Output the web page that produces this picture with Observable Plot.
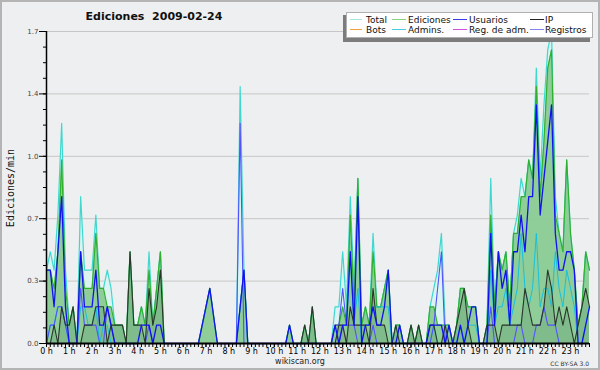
<!DOCTYPE html>
<html>
<head>
<meta charset="utf-8">
<script src="https://cdn.jsdelivr.net/npm/d3@7"></script>
<script src="https://cdn.jsdelivr.net/npm/@observablehq/plot@0.6"></script>
<style>
  html, body { margin: 0; padding: 0; background: #eeeff0; }
  #wrap { position: relative; width: 600px; height: 370px; overflow: hidden; background: #eeeff0; font-family: "DejaVu Sans", sans-serif; }
  #wrap svg { position: absolute; left: 0; top: 0; }
  .abs { position: absolute; white-space: nowrap; }
  #border { position: absolute; left: 0; top: 0; width: 600px; height: 370px; box-sizing: border-box; border: 2px solid #b4b4b4; pointer-events: none; }
</style>
</head>
<body>
<div id="wrap"></div>
<script>
// ---- data: 10-minute bins, 0:00 .. 23:50 (edits per minute) ----
const binMinutes = 10;
const total = [
  .4,.5,.4,.7,1.2,.4,  .1,.2,0,.8,.4,.4,  .4,.7,.3,.3,.4,.3,  .1,.1,.1,0,.5,.1,
  .1,.2,.1,.5,.1,.3,  .5,0,0,0,0,0,  0,0,0,0,0,.1,  .2,.3,.15,0,0,0,
  0,0,0,1.4,.4,0,  0,0,0,0,0,0,  0,0,0,0,.1,0,  0,0,.1,0,.2,0,
  0,0,0,0,.2,.2,  .5,.2,.8,.3,.9,.1,  .2,.1,.6,.2,.2,.3,  .4,0,.1,.1,0,0,
  .1,0,.1,0,0,.2,  .3,.4,.6,.1,.1,0,  .1,.3,.3,.2,.2,.2,  0,0,.1,.9,.2,.5,
  .4,.5,.2,.6,.7,.9,  .8,1.0,.9,1.5,.9,1.3,  1.6,1.7,.8,.6,.5,1.0,  .6,.4,.1,.2,.5,.4
];
const edits = [
  .4,.4,.3,.5,1.0,.3,  .1,.2,0,.5,.3,.3,  .3,.6,.3,.3,.2,.2,  .1,.1,.1,0,.5,.1,
  .1,.2,.1,.4,.1,.3,  .5,0,0,0,0,0,  0,0,0,0,0,.1,  .2,.3,.15,0,0,0,
  0,0,0,.2,.4,0,  0,0,0,0,0,0,  0,0,0,0,.1,0,  0,0,.1,0,.2,0,
  0,0,0,0,.1,.1,  .2,.1,.7,.2,.9,.1,  .2,.1,.5,.2,.2,.3,  .4,0,.1,.1,0,0,
  .1,0,.1,0,0,.2,  .2,.1,.1,.1,.1,0,  .1,.3,.3,.2,.2,.2,  0,0,.1,.7,.2,.5,
  .4,.5,.2,.6,.6,.8,  .8,1.0,.9,1.4,.8,1.1,  1.5,1.6,.7,.6,.5,1.0,  .6,.4,.1,.2,.5,.4
];
const users = [
  .4,.4,.2,.5,.8,.2,  0,0,0,.5,.2,.2,  .2,.4,.1,.1,.2,.1,  0,0,0,0,0,0,
  0,.1,.1,.1,0,.1,  .1,0,0,0,0,0,  0,0,0,0,0,.1,  .2,.3,.15,0,0,0,
  0,0,0,.2,.4,0,  0,0,0,0,0,0,  0,0,0,0,.1,0,  0,0,0,0,0,0,
  0,0,0,0,.1,0,  .1,.1,.5,.1,.8,0,  .1,.1,.2,.1,.1,.2,  .4,0,0,.1,0,0,
  0,0,0,0,0,.1,  .1,.1,.1,0,.1,0,  0,.1,0,.1,.2,.2,  0,0,0,.6,.1,.5,
  .3,.4,.1,.5,.5,.7,  .5,.8,.8,1.3,.7,.9,  1.1,1.3,.6,.4,.4,.5,  .5,.4,0,0,.1,.2
];
const ip = [
  0,0,.1,0,.2,.1,  .1,.2,0,0,.1,.1,  .1,.2,.2,.2,0,.1,  .1,.1,.1,0,.5,.1,
  .1,.1,0,.3,.1,.2,  .4,0,0,0,0,0,  0,0,0,0,0,0,  0,0,0,0,0,0,
  0,0,0,0,0,0,  0,0,0,0,0,0,  0,0,0,0,0,0,  0,0,.1,0,.2,0,
  0,0,0,0,0,.1,  .1,0,.2,.1,.1,.1,  .1,0,.3,.1,.1,.1,  0,0,.1,0,0,0,
  .1,0,.1,0,0,.1,  .1,0,0,.1,0,0,  .1,.2,.3,.1,0,0,  0,0,.1,.1,.1,0,
  .1,.1,.1,.1,.1,.1,  .3,.2,.1,.1,.1,.2,  .4,.3,.1,.2,.1,.2,  .1,0,.1,.2,.3,.2
];
const admins = [
  0,.1,.1,.2,.2,.1,  0,0,0,.2,.2,.1,  .1,.2,0,.1,.1,0,  0,0,0,0,0,0,
  0,0,0,0,0,0,  0,0,0,0,0,0,  0,0,0,0,0,0,  0,0,0,0,0,0,
  0,0,0,.2,.4,0,  0,0,0,0,0,0,  0,0,0,0,0,0,  0,0,0,0,0,0,
  0,0,0,0,0,0,  .1,.1,.5,.1,.3,0,  .1,.1,.2,.2,.2,.2,  .2,0,0,0,0,0,
  0,0,0,0,0,0,  .1,0,0,0,0,0,  0,.1,0,.1,.1,.1,  0,0,0,.4,.1,.2,
  .2,.3,.1,.2,.3,.6,  .3,.2,.3,.6,.2,.3,  .3,.2,.5,.3,.2,.4,  .3,.2,0,0,.1,.2
];
const regs = [
  0,.1,.1,.2,.2,.1,  0,0,0,.3,.1,.1,  .1,.1,0,0,.2,.1,  0,0,0,0,0,0,
  0,0,0,.1,0,0,  0,0,0,0,0,0,  0,0,0,0,0,0,  0,0,0,0,0,0,
  0,0,0,1.2,0,0,  0,0,0,0,0,0,  0,0,0,0,0,0,  0,0,0,0,0,0,
  0,0,0,0,.1,.1,  .3,.1,.1,.1,0,0,  0,0,.1,0,0,0,  0,0,0,0,0,0,
  0,0,0,0,0,0,  .1,.3,.5,0,0,0,  0,0,0,0,0,0,  0,0,0,.2,0,0,
  0,0,0,0,.1,.1,  0,0,0,.1,.1,.2,  .1,.1,.1,0,0,0,  0,0,0,0,0,0
];
const regAdm = [
  0,0,0,0,0,0,  0,0,0,0,0,0,  0,0,0,0,0,0,  0,0,0,0,0,0,
  0,0,0,0,0,0,  0,0,0,0,0,0,  0,0,0,0,0,0,  0,0,0,0,0,0,
  0,0,0,0,0,0,  0,0,0,0,0,0,  0,0,0,0,0,0,  0,0,0,0,0,0,
  0,0,0,0,0,0,  .1,0,0,0,0,0,  0,0,0,0,0,0,  0,0,0,0,0,0,
  0,0,0,0,0,0,  0,0,0,0,0,0,  0,0,0,0,0,0,  0,0,0,0,0,0,
  0,0,0,0,0,0,  0,0,0,0,0,0,  0,0,0,0,0,0,  0,0,0,0,0,0
];

const yTicks = [0, 0.34, 0.68, 1.02, 1.36, 1.7];
const hourTicks = d3.range(0, 24 * 60, 60);
const legendLabels = [["Total", "Ediciones", "Usuarios", "IP"], ["Bots", "Admins.", "Reg. de adm.", "Registros"]];
const legendColors = [["#a6e6e0", "#86d486", "#3a3ae6", "#222222"], ["#f4a040", "#4ccadc", "#d050dc", "#8282f0"]];
const titleText = "Ediciones\u00a0\u00a02009-02-24";
const yLabel = "Ediciones/min";
const footer = "wikiscan.org";
const license = "CC BY-SA 3.0";

// ---- table built from the arrays ----
const data = total.map((v, i) => ({
  t: i * binMinutes, total: v, edits: edits[i], users: users[i], ip: ip[i],
  admins: admins[i], regs: regs[i], regAdm: regAdm[i]
}));

const lineOpts = (key, color, w) => Plot.line(data, {x: "t", y: key, stroke: color, strokeWidth: w, curve: "linear"});

const chart = Plot.plot({
  width: 600,
  height: 370,
  marginLeft: 46,
  marginRight: 11,
  marginTop: 31,
  marginBottom: 27,
  style: {background: "transparent", fontFamily: "DejaVu Sans, sans-serif", fontSize: "8px", color: "#000", overflow: "visible"},
  x: {domain: [0, 1430], axis: null},
  y: {domain: [0, 1.7], axis: null},
  marks: [
    Plot.gridY(yTicks.slice(1), {stroke: "#c6c6c6", strokeOpacity: 1, strokeWidth: 1}),
    Plot.areaY(data, {x: "t", y: "total", fill: "#d9f3f1", fillOpacity: 0.95, curve: "linear"}),
    Plot.areaY(data, {x: "t", y: "edits", fill: "#5cb45c", fillOpacity: 0.6, curve: "linear"}),
    Plot.areaY(data, {x: "t", y: "ip", fill: "#2c4444", fillOpacity: 0.14, curve: "linear"}),
    lineOpts("total", "#3fd8cf", 1.2),
    lineOpts("edits", "#2fb02f", 1.2),
    lineOpts("admins", "#18c0dc", 1),
    lineOpts("regAdm", "#cc44cc", 1),
    lineOpts("regs", "#5252ff", 1.1),
    lineOpts("ip", "#2a362a", 1.1),
    lineOpts("users", "#1212f0", 1.3),
    Plot.axisY(d3.range(0, 1.7001, 0.085), {tickSize: 3, tickFormat: () => "", label: null, stroke: "#000"}),
    Plot.axisY(yTicks, {tickSize: 7, tickPadding: 1, tickFormat: d => d.toFixed(1), label: null, fontSize: 7, fill: "#444", stroke: "#000"}),
    Plot.axisX(d3.range(0, 1431, binMinutes), {tickSize: 4, tickFormat: () => "", label: null, stroke: "#000"}),
    Plot.axisX(hourTicks, {tickSize: 4, tickPadding: 1, tickFormat: m => `${m / 60} h`, label: null, fontSize: 8, fill: "#000", stroke: "#000"}),
    Plot.ruleX([0], {stroke: "#000", strokeWidth: 1.5}),
    Plot.ruleY([0], {stroke: "#000", strokeWidth: 2})
  ]
});

const wrap = document.getElementById("wrap");
wrap.appendChild(chart);

function addText(txt, css) {
  const d = document.createElement("div");
  d.className = "abs";
  d.textContent = txt;
  Object.assign(d.style, css);
  wrap.appendChild(d);
  return d;
}

// title
addText(titleText, {left: "154px", top: "16px", transform: "translate(-50%,-50%)", font: "bold 11px 'DejaVu Sans'", color: "#111"});
// y label
addText(yLabel, {left: "10px", top: "188px", transform: "translate(-50%,-50%) rotate(-90deg)", font: "10px 'DejaVu Sans Mono'", color: "#111"});
// footer
addText(footer, {left: "300px", top: "361px", transform: "translate(-50%,-50%)", font: "8px 'DejaVu Sans'", color: "#222"});
addText(license, {right: "11px", top: "362.5px", transform: "translateY(-50%)", font: "6px 'DejaVu Sans'", color: "#333"});

// legend box with shadow
const shadow = document.createElement("div");
Object.assign(shadow.style, {position: "absolute", left: "343px", top: "15px", width: "247px", height: "27px", background: "#7c7c7c"});
wrap.appendChild(shadow);
const box = document.createElement("div");
Object.assign(box.style, {position: "absolute", left: "346px", top: "12px", width: "247px", height: "26px", boxSizing: "border-box", background: "#ffffff", border: "1px solid #b0b0b0"});
wrap.appendChild(box);
const colLine = [350, 392, 453, 530];
const colLen = [12, 14, 14, 14];
const colText = [366, 408, 469, 545];
const rowY = [19.5, 29.5];
legendLabels.forEach((row, r) => row.forEach((lab, c) => {
  const ln = document.createElement("div");
  Object.assign(ln.style, {position: "absolute", left: colLine[c] + "px", top: (rowY[r] - 0.5) + "px", width: colLen[c] + "px", height: "1px", background: legendColors[r][c]});
  wrap.appendChild(ln);
  addText(lab, {left: colText[c] + "px", top: rowY[r] + "px", transform: "translateY(-50%)", font: "9px 'DejaVu Sans'", color: "#111", lineHeight: "10px"});
}));

const border = document.createElement("div");
border.id = "border";
wrap.appendChild(border);
</script>
</body>
</html>
